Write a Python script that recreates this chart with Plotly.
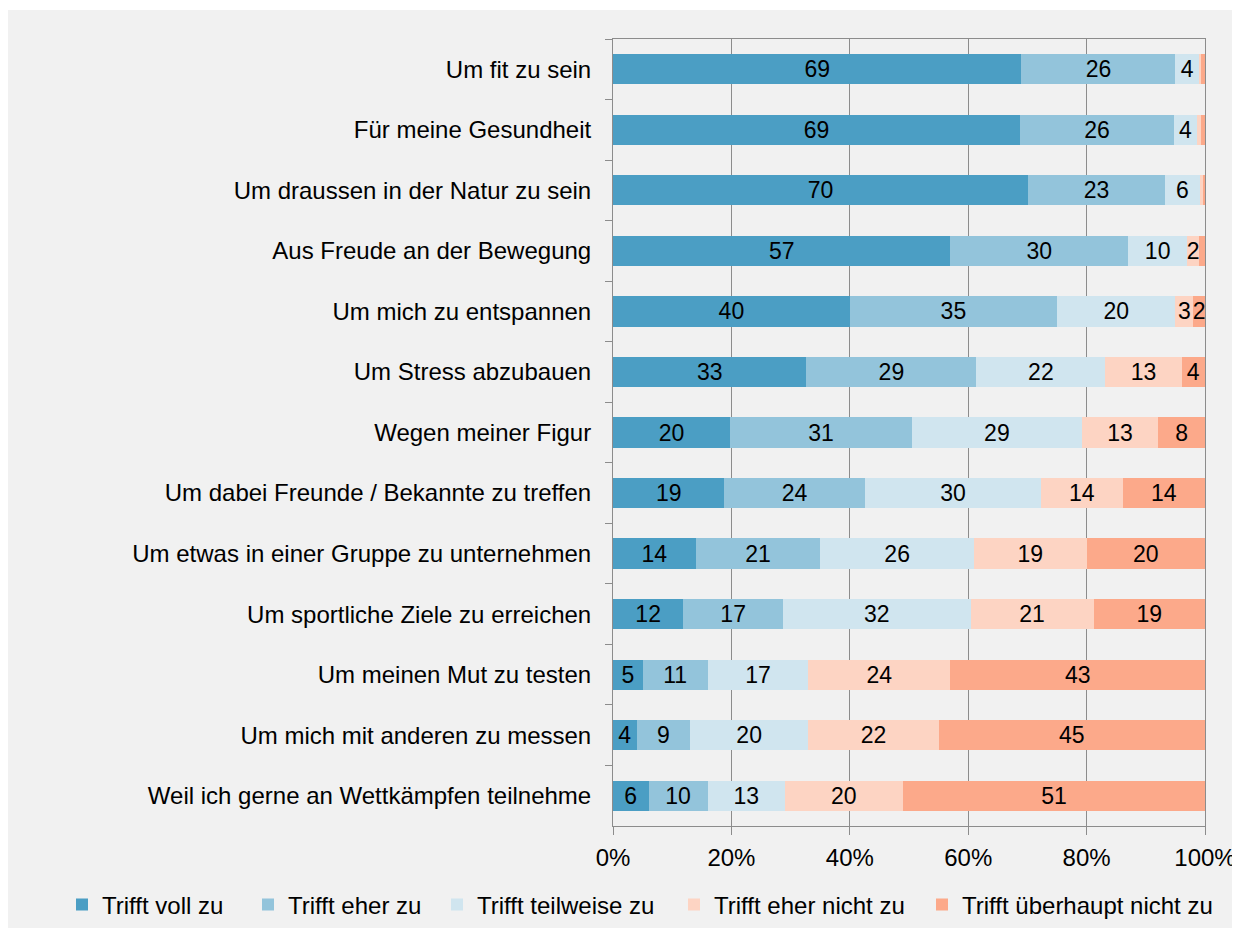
import plotly.graph_objects as go

categories = [
    "Um fit zu sein",
    "Für meine Gesundheit",
    "Um draussen in der Natur zu sein",
    "Aus Freude an der Bewegung",
    "Um mich zu entspannen",
    "Um Stress abzubauen",
    "Wegen meiner Figur",
    "Um dabei Freunde / Bekannte zu treffen",
    "Um etwas in einer Gruppe zu unternehmen",
    "Um sportliche Ziele zu erreichen",
    "Um meinen Mut zu testen",
    "Um mich mit anderen zu messen",
    "Weil ich gerne an Wettkämpfen teilnehme",
]

voll_zu = [69, 69, 70, 57, 40, 33, 20, 19, 14, 12, 5, 4, 6]
eher_zu = [26, 26, 23, 30, 35, 29, 31, 24, 21, 17, 11, 9, 10]
teilweise_zu = [4, 4, 6, 10, 20, 22, 29, 30, 26, 32, 17, 20, 13]
eher_nicht_zu = [0.3, 0.6, 0.4, 2, 3, 13, 13, 14, 19, 21, 24, 22, 20]
ueberhaupt_nicht_zu = [0.7, 0.7, 0.4, 1, 2, 4, 8, 14, 20, 19, 43, 45, 51]

series_names = [
    "Trifft voll zu",
    "Trifft eher zu",
    "Trifft teilweise zu",
    "Trifft eher nicht zu",
    "Trifft überhaupt nicht zu",
]
series_values = [voll_zu, eher_zu, teilweise_zu, eher_nicht_zu, ueberhaupt_nicht_zu]
colors = ["#4b9ec4", "#93c4db", "#d0e5ef", "#fdd4c3", "#fca98a"]

x_ticks = [0, 20, 40, 60, 80, 100]

FONT = "Liberation Sans, Arial, sans-serif"
BG = "#f1f1f1"

# the page has the browser's default 8px body margin -> figure (div) pixels
OFF = 8
W, H = 1228, 920
L, R, T, B = 613 - OFF, 1205 - OFF, 39 - OFF, 826 - OFF
pw, ph = R - L, B - T

legend_text_x = [101, 287, 476, 713, 961]  # page px where legend texts start
legend_ids = ["legend", "legend2", "legend3", "legend4", "legend5"]

fig = go.Figure()
for name, vals, col, lid in zip(series_names, series_values, colors, legend_ids):
    fig.add_trace(go.Bar(
        y=categories,
        x=vals,
        name=name,
        orientation="h",
        legend=lid,
        marker=dict(color=col, line=dict(width=0)),
        text=[f"{round(v)}" if v >= 1.5 else "" for v in vals],
        textposition="inside",
        insidetextanchor="middle",
        textangle=0,
        constraintext="none",
        textfont=dict(family=FONT, size=23, color="#000000"),
        hoverinfo="skip",
    ))

legend_common = dict(
    orientation="h",
    xref="container", yref="container",
    xanchor="left",
    y=1 - (905 - OFF) / H, yanchor="middle",
    font=dict(family=FONT, size=24, color="#000000"),
    bgcolor="rgba(0,0,0,0)",
    borderwidth=0,
    itemwidth=30,
)
legends = {}
for lid, tx in zip(legend_ids, legend_text_x):
    legends[lid] = dict(legend_common, x=(tx - OFF - 39) / W)

fig.update_layout(
    width=W, height=H,
    margin=dict(l=L, r=W - R, t=T, b=H - B, pad=0, autoexpand=False),
    barmode="stack",
    barnorm="percent",
    bargap=0.5,
    paper_bgcolor=BG,
    plot_bgcolor=BG,
    font=dict(family=FONT, size=24, color="#000000"),
    showlegend=True,
    shapes=[dict(
        # thin white band at the very top (reference panel starts at y=10)
        type="rect", xref="paper", yref="paper", layer="below",
        x0=(0 - L) / pw, x1=(W - L) / pw,
        y0=(B - (10 - OFF)) / ph, y1=(B + 1) / ph + 1,
        fillcolor="#ffffff", line=dict(width=0),
    )],
    **legends,
)

fig.update_xaxes(
    range=[0, 100],
    tickvals=x_ticks,
    ticktext=[f"{t}%" for t in x_ticks],
    showgrid=True, gridcolor="#8c8c8c", gridwidth=1,
    showline=True, linecolor="#8c8c8c", linewidth=1, mirror=True,
    ticks="outside", ticklen=8, tickcolor="#8c8c8c",
    ticklabelstandoff=2,
    ticklabeloverflow="allow",
    automargin=False,
    tickfont=dict(family=FONT, size=24, color="#000000"),
    zeroline=False,
    fixedrange=True,
)
fig.update_yaxes(
    autorange="reversed",
    showline=True, linecolor="#8c8c8c", linewidth=1, mirror=True,
    ticks="outside", ticklen=7, tickcolor="#8c8c8c",
    tickson="boundaries",
    ticklabelstandoff=16,
    automargin=False,
    tickfont=dict(family=FONT, size=24, color="#000000"),
    showgrid=False,
    fixedrange=True,
)

fig.write_html("out.html")
